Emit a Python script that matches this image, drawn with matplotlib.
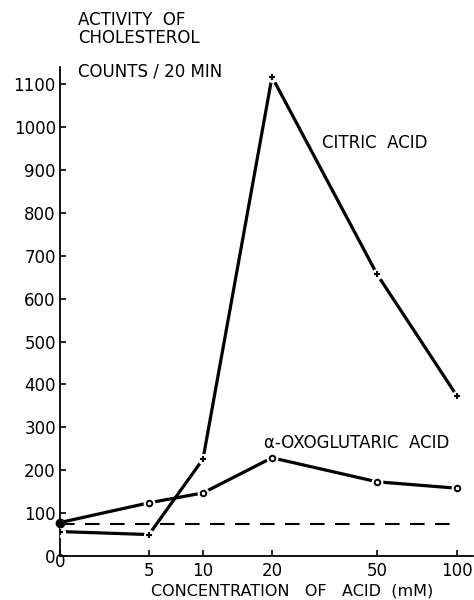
import numpy as np
import matplotlib
matplotlib.use("Agg")
import matplotlib.pyplot as plt
from matplotlib.transforms import ScaledTranslation

# ---- data ----
concentration = [0, 5, 10, 20, 50, 100]
citric_acid = [57, 50, 226, 1117, 657, 373]
oxoglutaric_acid = [78, 124, 147, 229, 173, 158]
control_level = 75
x_tick_labels = ["0", "5", "10", "20", "50", "100"]
y_ticks = [0, 100, 200, 300, 400, 500, 600, 700, 800, 900, 1000, 1100]

# ---- irregular hand-drawn x scale (knot positions of the original axis) ----
_knots_pos = np.array([0, 89, 143, 212, 317, 397], float)
_knots_val = np.array(concentration, float)
_slope_hi = (_knots_pos[-1] - _knots_pos[-2]) / (_knots_val[-1] - _knots_val[-2])


def fwd(x):
    x = np.asarray(x, float)
    return np.where(x > _knots_val[-1],
                    _knots_pos[-1] + (x - _knots_val[-1]) * _slope_hi,
                    np.interp(x, _knots_val, _knots_pos))


def inv(p):
    p = np.asarray(p, float)
    return np.where(p > _knots_pos[-1],
                    _knots_val[-1] + (p - _knots_pos[-1]) / _slope_hi,
                    np.interp(p, _knots_pos, _knots_val))


plt.rcParams['font.family'] = ['DejaVu Sans']
W, H = 474, 600
fig = plt.figure(figsize=(W / 100, H / 100), dpi=100)
ax = fig.add_axes([60 / W, (H - 556) / H, 413 / W, 489 / H])
ax.set_xscale('function', functions=(fwd, inv))
ax.set_xlim(0, 110)
ax.set_ylim(0, 1140)

lw = 2.3
# control (dashed)
ax.plot([concentration[0], concentration[-1]], [control_level, control_level],
        color='black', lw=1.5, dashes=(7, 5), zorder=2)

# citric acid
ax.plot(concentration, citric_acid, color='black', lw=lw, zorder=3,
        solid_capstyle='butt')
ax.plot(concentration, citric_acid, ls='none', marker='o', ms=7,
        mfc='white', mec='white', zorder=4)
ax.plot(concentration, citric_acid, ls='none', marker='+', ms=5,
        mew=1.5, color='black', zorder=5)

# oxoglutaric acid
ax.plot(concentration, oxoglutaric_acid, color='black', lw=lw, zorder=3,
        solid_capstyle='butt')
ax.plot(concentration[1:], oxoglutaric_acid[1:], ls='none', marker='o', ms=7.5,
        mfc='white', mec='white', zorder=4)
ax.plot(concentration[1:], oxoglutaric_acid[1:], ls='none', marker='o', ms=4,
        mfc='white', mec='black', mew=1.4, zorder=5)
ax.plot(concentration[:1], oxoglutaric_acid[:1], ls='none', marker='o', ms=6,
        color='black', zorder=6, clip_on=False)

# axes styling
for s in ['top', 'right']:
    ax.spines[s].set_visible(False)
for s in ['left', 'bottom']:
    ax.spines[s].set_linewidth(1.3)

ax.set_xticks(concentration)
ax.set_xticklabels(x_tick_labels)
ax.set_yticks(y_ticks)
ax.set_yticklabels([str(v) for v in y_ticks])
ax.tick_params(axis='both', direction='in', length=4, width=1.2,
               labelsize=12, colors='black')
ax.tick_params(axis='x', pad=4)
ax.tick_params(axis='y', pad=3)

# raise the x "0" label like in the original
lbl0 = ax.get_xticklabels()[0]
lbl0.set_transform(lbl0.get_transform() + ScaledTranslation(0, 6 / 72, fig.dpi_scale_trans))

fs = 12
fig.text(78 / W, 1 - 25 / H, "ACTIVITY  OF", fontsize=fs, ha='left', va='baseline')
fig.text(78 / W, 1 - 43 / H, "CHOLESTEROL", fontsize=fs, ha='left', va='baseline')
fig.text(78 / W, 1 - 76 / H, "COUNTS / 20 MIN", fontsize=fs, ha='left', va='baseline')
fig.text(375 / W, 1 - 148 / H, "CITRIC  ACID", fontsize=fs, ha='center', va='baseline')
fig.text(357 / W, 1 - 448 / H, "\u03b1-OXOGLUTARIC  ACID", fontsize=fs, ha='center', va='baseline')
fig.text(292 / W, 1 - 595 / H, "CONCENTRATION   OF   ACID  (mM)", fontsize=11.5,
         ha='center', va='baseline')

fig.savefig("out.png", dpi=100)
